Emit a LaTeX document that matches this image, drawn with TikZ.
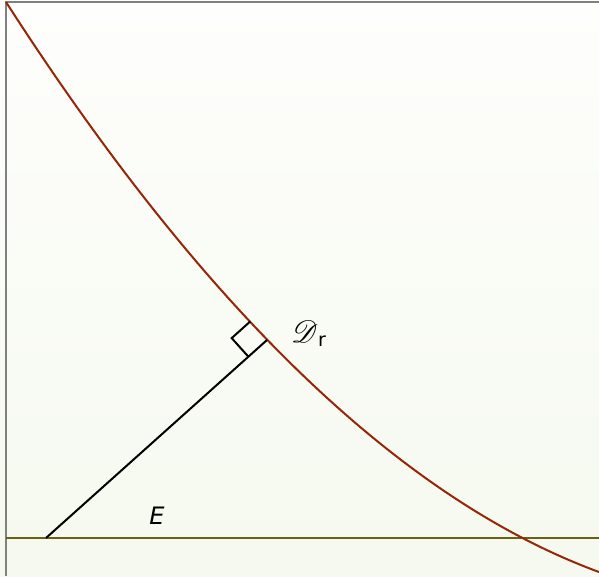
\documentclass[tikz,border=0pt]{standalone}
\usepackage{graphicx}
\usepackage{mathrsfs}
\usepackage{fontspec}
\setmainfont{DejaVu Sans}
\definecolor{curvecol}{RGB}{150,38,8}
\definecolor{basecol}{RGB}{104,98,16}
\definecolor{framecol}{RGB}{128,128,128}
\definecolor{bgtop}{RGB}{254,254,252}
\definecolor{bgbot}{RGB}{245,249,239}
\tikzset{
  curveline/.style={draw=curvecol,line width=2pt},
  baseline/.style={draw=basecol,line width=2.2pt},
  frameline/.style={draw=framecol,line width=1.6pt},
  perpline/.style={draw=black,line width=2pt},
  lbl/.style={inner sep=0pt,font=\fontsize{24}{28}\selectfont}
}
\begin{document}
\begin{tikzpicture}[x=1pt,y=-1pt]
\useasboundingbox (0,0) rectangle (599,576);
\shade[top color=bgtop,bottom color=bgbot] (0,0) rectangle (599,576);
% frame
\coordinate (tl) at (6,2);
\coordinate (tr) at (599,2);
\coordinate (bl) at (6,576);
\draw[frameline] (tr) -- (tl) -- (bl);
% base line
\coordinate (b0) at (6,538);
\coordinate (b1) at (599,538);
\draw[baseline] (b0) -- (b1);
% curve (parabola)
\coordinate (c0) at (6,2);
\coordinate (c1) at (599,572);
\draw[curveline] (c0) .. controls (203.7,309.2) and (401.3,499.2) .. (c1);
% perpendicular
\coordinate (foot) at (267,340);
\coordinate (start) at (46,538);
\draw[perpline] (start) -- (foot);
\coordinate (m1) at (248.4,356.7);
\coordinate (m2) at (231.7,338.1);
\coordinate (m3) at (250.3,321.4);
\draw[perpline] (m1) -- (m2) -- (m3);
% labels
\node[lbl] (E) at (157,516) {\itshape E};
\node[lbl,anchor=west] (D) at (291,334) {\scalebox{1.25}{$\mathscr{D}$}\raisebox{-0.3ex}{\fontsize{19}{20}\selectfont r}};
\end{tikzpicture}
\end{document}
